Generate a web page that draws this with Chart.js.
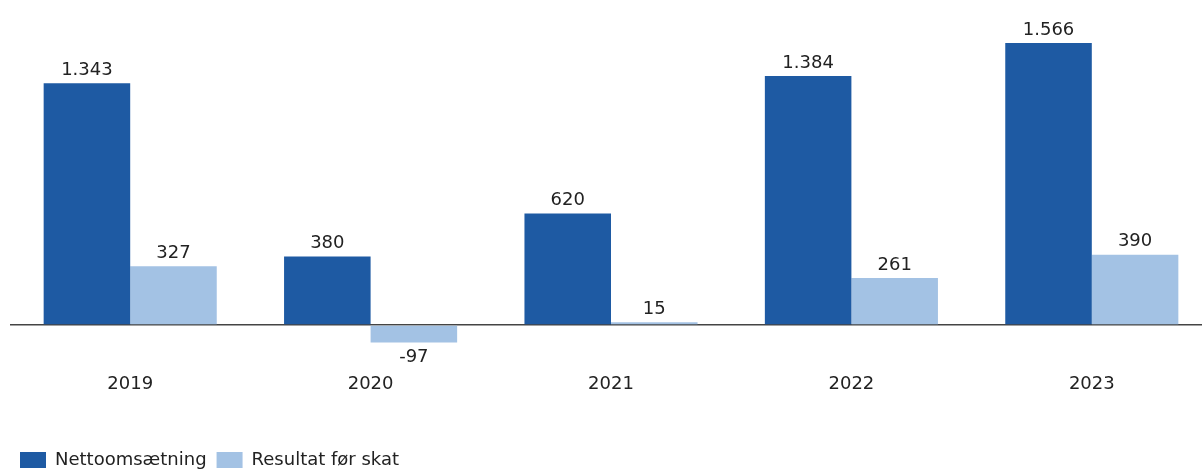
<!DOCTYPE html>
<html>
<head>
<meta charset="utf-8">
<script src="https://cdn.jsdelivr.net/npm/chart.js@4/dist/chart.umd.min.js"></script>
<style>
  html, body { margin: 0; padding: 0; background: #fff; overflow: hidden; }
  #wrap { width: 1214px; height: 479px; position: relative; }
</style>
</head>
<body>
<div id="wrap"><canvas id="myChart"></canvas></div>
<script>
const years = ["2019", "2020", "2021", "2022", "2023"];
const nettoomsaetning = [1343, 380, 620, 1384, 1566];
const resultatFoerSkat = [327, -97, 15, 261, 390];

const darkBlue = "#1e5aa3";
const lightBlue = "#a3c2e4";
const font = "'DejaVu Sans', Verdana, sans-serif";

// draws the numbers above (or below, if negative) each bar
const valueLabels = {
    id: 'valueLabels',
    afterDatasetsDraw(chart) {
        const ctx = chart.ctx;
        ctx.save();
        ctx.font = "18px " + font;
        ctx.fillStyle = "#222";
        ctx.textAlign = "center";
        chart.data.datasets.forEach((ds, i) => {
            chart.getDatasetMeta(i).data.forEach((bar, j) => {
                const v = ds.data[j];
                const txt = v.toLocaleString('da-DK');
                if (v >= 0) {
                    ctx.textBaseline = "bottom";
                    ctx.fillText(txt, bar.x, bar.y - 4);
                } else {
                    ctx.textBaseline = "top";
                    ctx.fillText(txt, bar.x, bar.y + 6);
                }
            });
        });
        ctx.restore();
    }
};

const ctx = document.getElementById("myChart");
new Chart(ctx, {
    type: 'bar',
    data: {
        labels: years,
        datasets: [
            {
                label: "Nettoomsætning",
                data: nettoomsaetning,
                backgroundColor: darkBlue,
                categoryPercentage: 0.72,
                barPercentage: 1.0
            },
            {
                label: "Resultat før skat",
                data: resultatFoerSkat,
                backgroundColor: lightBlue,
                categoryPercentage: 0.72,
                barPercentage: 1.0
            }
        ]
    },
    options: {
        responsive: true,
        maintainAspectRatio: false,
        animation: false,
        layout: {
            padding: {left: 10, right: 2, top: 19, bottom: 0}
        },
        scales: {
            x: {
                grid: {display: false, drawTicks: false},
                border: {display: false},
                ticks: {
                    color: "#222",
                    font: {family: font, size: 18},
                    padding: 4
                },
                title: {
                    display: true,
                    text: ' ',
                    font: {size: 12},
                    padding: {top: 0, bottom: 27}
                }
            },
            y: {
                min: -250,
                max: 1700,
                ticks: {display: false, stepSize: 50},
                border: {display: false},
                grid: {
                    drawTicks: false,
                    color: (c) => c.tick && c.tick.value === 0 ? "#444" : "rgba(0,0,0,0)",
                    lineWidth: (c) => c.tick && c.tick.value === 0 ? 1.5 : 0
                }
            }
        },
        plugins: {
            legend: {
                display: true,
                position: 'bottom',
                align: 'start',
                labels: {
                    boxWidth: 26,
                    boxHeight: 16,
                    color: "#222",
                    font: {family: font, size: 18},
                    padding: 10
                }
            },
            tooltip: {enabled: false}
        }
    },
    plugins: [valueLabels]
});
</script>
</body>
</html>
